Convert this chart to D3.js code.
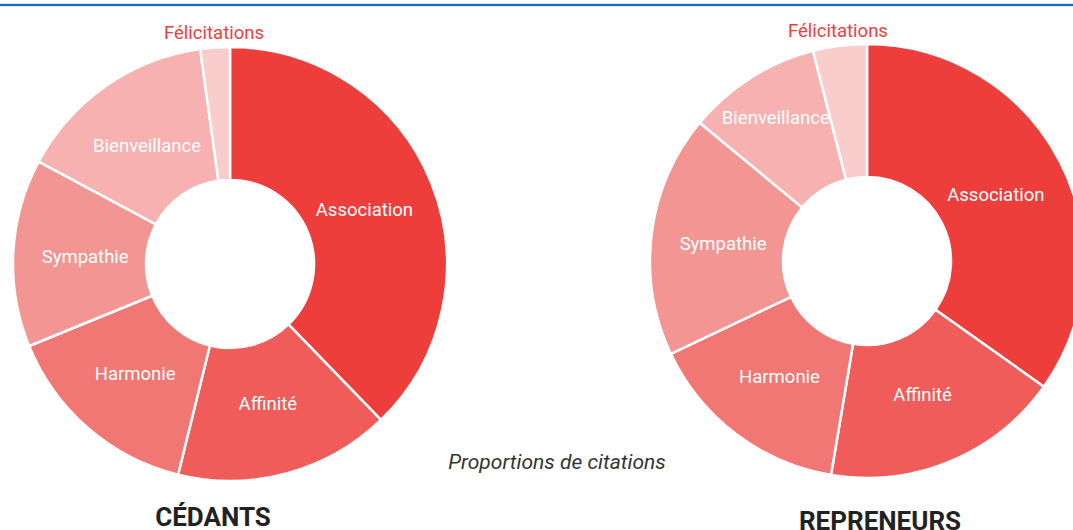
<!DOCTYPE html>
<html>
<head>
<meta charset="utf-8">
<script src="https://cdn.jsdelivr.net/npm/d3@7"></script>
<style>
  html, body { margin: 0; padding: 0; background: #fff; }
  svg { display: block; font-family: Roboto, "Noto Sans", sans-serif; }
</style>
</head>
<body>
<div id="chart"></div>
<script>
// categories, in drawing order (clockwise from top)
var categories = ["Association", "Affinité", "Harmonie", "Sympathie", "Bienveillance", "Félicitations"];

// proportions of citations (%)
var cedantsValues = [37.8, 16.1, 15.0, 14.0, 15.0, 2.2];
var repreneursValues = [34.8, 17.8, 15.3, 18.0, 10.0, 4.0];

var groupTitles = ["CÉDANTS", "REPRENEURS"];
var caption = "Proportions de citations";

var sliceColors = ["#ee3e3c", "#f05c5a", "#f17774", "#f39592", "#f7b1b1", "#facdcd"];

var width = 1073,
    height = 530,
    outerR = 217,
    innerR = 84,
    labelR = 145;

var svg = d3.select("#chart").append("svg")
    .attr("width", width)
    .attr("height", height);

// thin blue rule at the top
svg.append("rect").attr("x", 0).attr("y", 3).attr("width", width).attr("height", 1)
    .attr("fill", "#d6e4f3");
svg.append("rect").attr("x", 0).attr("y", 4).attr("width", width).attr("height", 2)
    .attr("fill", "#1c6cbd");
svg.append("rect").attr("x", 0).attr("y", 6).attr("width", width).attr("height", 1)
    .attr("fill", "#e3ecf6");

var color = d3.scaleOrdinal().domain(categories).range(sliceColors);

var pie = d3.pie().sort(null).value(function (d) { return d.value; });

var arc = d3.arc().outerRadius(outerR).innerRadius(innerR);

// point at radius r on the middle of the slice
function midPoint(d, r) {
    var a = (d.startAngle + d.endAngle) / 2;
    return [r * Math.sin(a), -r * Math.cos(a)];
}

function drawDonut(values, cx, cy, title, titleX, titleY) {
    var data = categories.map(function (c, i) { return { label: c, value: values[i] }; });

    var g = svg.append("g")
        .attr("transform", "translate(" + cx + "," + cy + ")");

    var slices = g.selectAll(".arc")
        .data(pie(data))
        .enter().append("g")
        .attr("class", "arc");

    slices.append("path")
        .attr("d", arc)
        .style("fill", function (d) { return color(d.data.label); })
        .style("stroke", "#fff")
        .style("stroke-width", 2.5)
        .style("stroke-linejoin", "round");

    // labels: inside the ring; narrow slices push the label outward,
    // the tiny slice gets its label outside in red
    slices.append("text")
        .style("text-anchor", "middle")
        .style("font-size", "18.5px")
        .style("fill", function (d) { return d.data.label === "Félicitations" ? "#ee3e3c" : "#fff"; })
        .text(function (d) { return d.data.label; })
        .attr("dy", "0.35em")
        .attr("transform", function (d) {
            var r;
            if (d.data.label === "Félicitations") {
                r = outerR + 15;
            } else {
                var w = this.getComputedTextLength();
                var span = d.endAngle - d.startAngle;
                r = Math.max(labelR, Math.min(outerR - 47, w / span));
            }
            return "translate(" + midPoint(d, r) + ")";
        });

    svg.append("text")
        .attr("x", titleX)
        .attr("y", titleY)
        .style("text-anchor", "middle")
        .style("font-size", "26px")
        .style("font-weight", 700)
        .style("fill", "#222")
        .text(title);
}

drawDonut(cedantsValues, 230, 264, groupTitles[0], 213, 526);
drawDonut(repreneursValues, 867, 261, groupTitles[1], 880, 530);

svg.append("text")
    .attr("x", 557)
    .attr("y", 469)
    .style("text-anchor", "middle")
    .style("font-size", "21px")
    .style("font-style", "italic")
    .style("fill", "#333")
    .text(caption);
</script>
</body>
</html>
